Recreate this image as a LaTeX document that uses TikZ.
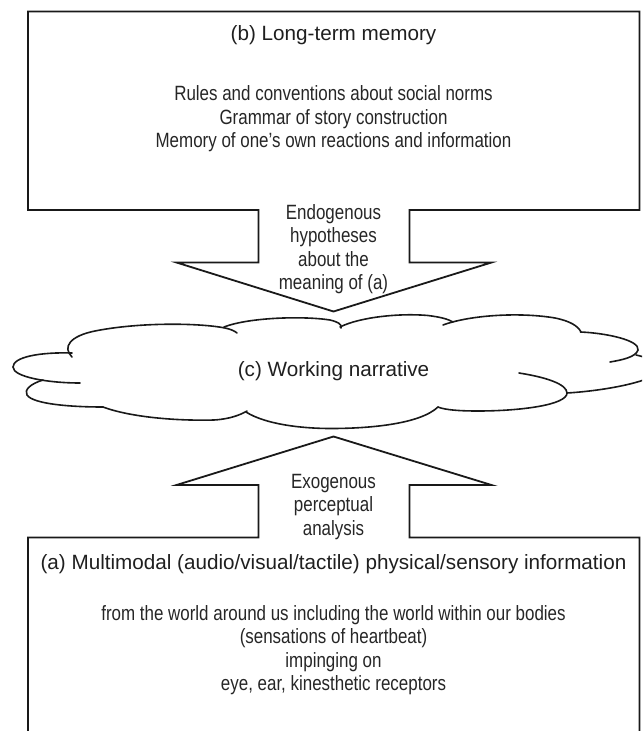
\documentclass[tikz,border=0pt]{standalone}
\usepackage{fontspec}
\setmainfont{Liberation Sans}
\newfontfamily\narrowsans{Liberation Sans}[FakeStretch=0.82]
\usepackage{tikz}
\tikzset{
  outline/.style={draw=black!90,line width=1.35pt,line join=miter},   % box + block arrow
  puff/.style={draw=black!90,line width=1.2pt,line cap=round},         % cloud lobes
  boxtitle/.style={font=\fontsize{15.5}{18}\selectfont,text=black!88,inner sep=0pt},
  boxtext/.style={font=\narrowsans\fontsize{15.5}{17.6}\selectfont,text=black!85,
                  align=center,inner sep=0pt}
}

\begin{document}
\begin{tikzpicture}[x=0.75pt,y=-0.75pt]
  \useasboundingbox (0,0) rectangle (642,731);
  \clip (0,0) rectangle (642,731);

  % (b) long-term memory box with its arrow pointing down
  \draw[outline] (28,11.5) -- (639.5,11.5) -- (639.5,210) -- (409.5,210) -- (409.5,262.5)
    -- (491.5,262.5) -- (333.5,311.5) -- (176.5,262.5) -- (258.5,262.5) -- (258.5,210)
    -- (28,210) -- cycle;
  \node[boxtitle,anchor=base] (ltm) at (333.5,41) {(b) Long-term memory};
  \node[boxtext] (ltmtext) at (333.5,119) {Rules and conventions about social norms\\
    Grammar of story construction\\Memory of one’s own reactions and information};
  \node[boxtext] (endo) at (333.5,249) {Endogenous\\hypotheses\\about the\\meaning of (a)};

  % (c) working narrative cloud
  \draw[puff] (72,357) .. controls (62,347) and (70,336) .. (95,331)
    .. controls (140,322) and (200,323) .. (225,328) .. controls (230,329) and (235,331) .. (237,333);
  \draw[puff] (224,327) .. controls (250,317) and (305,316) .. (330,320)
    .. controls (338,322) and (342,324) .. (341,328);
  \draw[puff] (340,327) .. controls (360,317) and (400,313) .. (428,315.5)
    .. controls (440,317) and (448,319) .. (453,322);
  \draw[puff] (443,325) .. controls (470,315) and (520,312) .. (555,318)
    .. controls (570,321) and (578,326) .. (581,332);
  \draw[puff] (580.5,332) .. controls (605,333) and (640,340) .. (638,350)
    .. controls (636,357) and (622,360) .. (610,362);
  \draw[puff] (636,355) .. controls (655,359) and (668,368) .. (655,375)
    .. controls (640,384) and (600,391) .. (567,393);
  \draw[puff] (519,373) .. controls (545,377) and (567,384) .. (567,393)
    .. controls (567,405) and (520,411) .. (478,411) .. controls (460,411) and (445,410) .. (438,407);
  \draw[puff] (246,412) .. controls (265,424) and (300,428.5) .. (331,428.5)
    .. controls (370,428.5) and (420,424) .. (438,407);
  \draw[puff] (103,407) .. controls (130,417) and (175,421) .. (214,420)
    .. controls (230,419) and (240,415) .. (247,411);
  \draw[puff] (43,380) .. controls (30,384) and (24,390) .. (27,395)
    .. controls (33,404) and (70,407) .. (103,407);
  \draw[puff] (72,353) .. controls (40,352) and (13,357) .. (13,367)
    .. controls (13,377) and (48,383) .. (80,383);
  \node[boxtitle,anchor=base] (wn) at (333.5,376.5) {(c) Working narrative};

  % (a) sensory information box with its arrow pointing up
  \draw[outline] (28,740) -- (28,537.5) -- (258.5,537.5) -- (258.5,485) -- (176.5,485)
    -- (333.5,436.5) -- (491.5,485) -- (409.5,485) -- (409.5,537.5) -- (639.5,537.5) -- (639.5,740);
  \node[boxtext] (exo) at (333.5,507) {Exogenous\\perceptual\\analysis};
  \node[boxtitle,anchor=base] (sens) at (333.5,569.5)
    {(a) Multimodal (audio/visual/tactile) physical/sensory information};
  \node[boxtext] (senstext) at (333.5,650) {from the world around us including the world within our bodies\\
    (sensations of heartbeat)\\impinging on\\eye, ear, kinesthetic receptors};
\end{tikzpicture}
\end{document}
